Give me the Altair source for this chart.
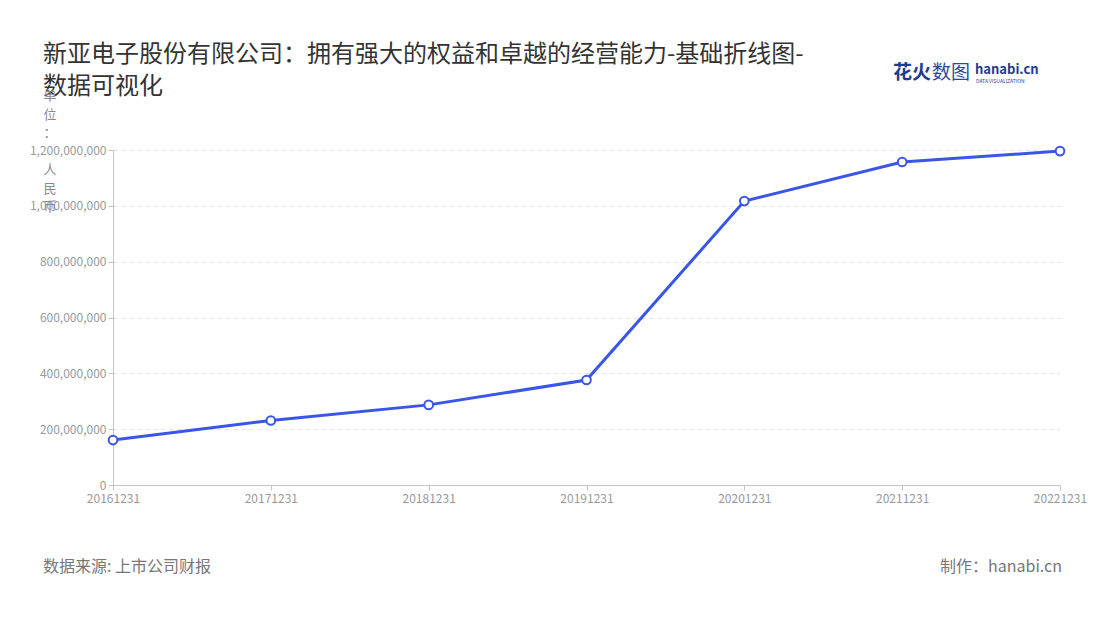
import altair as alt
import pandas as pd

# ---- data ----
dates = ["20161231", "20171231", "20181231", "20191231", "20201231", "20211231", "20221231"]
values = [161000000, 231000000, 287000000, 376000000, 1017000000, 1157000000, 1196000000]
y_ticks = [0, 200000000, 400000000, 600000000, 800000000, 1000000000, 1200000000]

title_lines = ["新亚电子股份有限公司：拥有强大的权益和卓越的经营能力-基础折线图-", "数据可视化"]
unit_label_top = "单\n位\n："
unit_label_bottom = "人\n民\n币"
source_text = "数据来源: 上市公司财报"
maker_text = "制作：hanabi.cn"
logo_cn_bold = "花火"
logo_cn_light = "数图"
logo_en = "hanabi.cn"
logo_sub = "DATA VISUALIZATION"

FONT = "Noto Sans CJK SC"
BLUE = "#3a56e8"

df = pd.DataFrame({"date": dates, "value": values})

x_enc = alt.X("date:O", sort=dates, title=None,
              scale=alt.Scale(type="point", padding=0),
              axis=alt.Axis(labelAngle=0, labelColor="#999999", labelFontSize=12,
                            domainColor="#c4c4c4", tickColor="#c4c4c4", tickSize=5,
                            labelPadding=3, grid=False, labelFont=FONT))
y_enc = alt.Y("value:Q", title=None,
              scale=alt.Scale(domain=[0, 1200000000], nice=False),
              axis=alt.Axis(values=y_ticks, format=",d", labelColor="#999999",
                            labelFontSize=12, domainColor="#c4c4c4", tickColor="#c4c4c4",
                            tickSize=5, labelPadding=2, grid=True, gridColor="#e3e3e3",
                            gridDash=[4, 4], labelFont=FONT))

base = alt.Chart(df)
line = base.mark_line(color=BLUE, strokeWidth=3).encode(x=x_enc, y=y_enc)
points = base.mark_point(filled=True, fill="white", stroke=BLUE, strokeWidth=2,
                         size=75, opacity=1).encode(x=x_enc, y=y_enc)

OX, OY = 113, 150  # page position of plot origin


def txt(text, px, py, **kw):
    d = pd.DataFrame({"t": [text]})
    return alt.Chart(d).mark_text(font=FONT, **kw).encode(
        text="t:N", x=alt.value(px - OX), y=alt.value(py - OY))


layers = [
    line, points,
    txt(title_lines[0], 43, 55, fontSize=24, color="#333333", align="left", baseline="middle"),
    txt(title_lines[1], 43, 87, fontSize=24, color="#333333", align="left", baseline="middle"),
    txt(unit_label_top, 50, 96, fontSize=13, color="#8a8a8a", align="center", baseline="middle",
        lineBreak="\n", lineHeight=18.5),
    txt(unit_label_bottom, 50, 170, fontSize=13, color="#8a8a8a", align="center", baseline="middle",
        lineBreak="\n", lineHeight=18.5),
    txt(source_text, 43, 567, fontSize=16, color="#777777", align="left", baseline="middle"),
    txt(maker_text, 1062, 567, fontSize=16, color="#777777", align="right", baseline="middle"),
    txt(logo_cn_bold, 893, 73, fontSize=19, color="#1f3b8f", align="left", baseline="middle",
        fontWeight="bold"),
    txt(logo_cn_light, 932, 73, fontSize=19, color="#2a4a9a", align="left", baseline="middle"),
    txt(logo_en, 975, 70, fontSize=13, color="#1f3b8f", align="left", baseline="middle",
        fontWeight="bold"),
    txt(logo_sub, 976, 81, fontSize=5, color="#1f3b8f", align="left", baseline="middle"),
]

chart = alt.layer(*layers).properties(
    width=947, height=335,
    autosize=alt.AutoSizeParams(type="none"),
    padding={"left": 105, "top": 142, "right": 32, "bottom": 120},
).configure(font=FONT).configure_view(strokeWidth=0, stroke="transparent")

chart.save("out.html", embed_options={"renderer": "svg", "actions": False})
